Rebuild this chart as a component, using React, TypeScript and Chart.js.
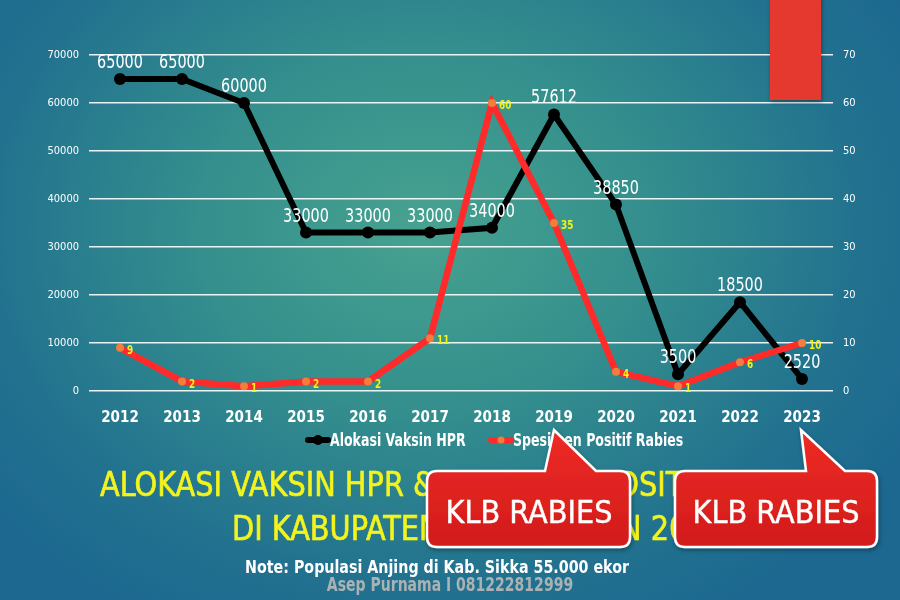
import React, { useEffect, useRef } from 'react';
import { Chart, registerables } from 'chart.js';

Chart.register(...registerables);

const years = ['2012', '2013', '2014', '2015', '2016', '2017', '2018', '2019', '2020', '2021', '2022', '2023'];
const vaksinHPR = [65000, 65000, 60000, 33000, 33000, 33000, 34000, 57612, 38850, 3500, 18500, 2520];
const spesimenPositif = [9, 2, 1, 2, 2, 11, 60, 35, 4, 1, 6, 10];
const leftTicks = [0, 10000, 20000, 30000, 40000, 50000, 60000, 70000];
const rightTicks = [0, 10, 20, 30, 40, 50, 60, 70];

const seriesNames = ['Alokasi Vaksin HPR', 'Spesimen Positif Rabies'];
const titleLine1 = 'ALOKASI VAKSIN HPR & SPESIMEN POSITIF RABIES';
const titleLine2 = 'DI KABUPATEN SIKKA TAHUN 2012-2023';
const calloutText = 'KLB RABIES';
const noteText = 'Note: Populasi Anjing di Kab. Sikka 55.000 ekor';
const authorText = 'Asep Purnama I 081222812999';

const NARROW = '"Liberation Sans Narrow", "DejaVu Sans Condensed", "Arial Narrow", sans-serif';

const valueLabels = {
  id: 'valueLabels',
  afterDatasetsDraw(chart: any) {
    const ctx = chart.ctx;
    chart.data.datasets.forEach((ds: any, i: number) => {
      const meta = chart.getDatasetMeta(i);
      meta.data.forEach((pt: any, j: number) => {
        const v = ds.data[j];
        ctx.save();
        if (i === 0) {
          ctx.font = '20px ' + NARROW;
          ctx.fillStyle = '#ffffff';
          ctx.textAlign = 'center';
          ctx.textBaseline = 'alphabetic';
          ctx.translate(pt.x, pt.y - 11);
          ctx.scale(0.8, 1);
          ctx.fillText(String(v), 0, 0);
        } else {
          ctx.font = 'bold 12px ' + NARROW;
          ctx.fillStyle = '#f2f21c';
          ctx.textAlign = 'left';
          ctx.textBaseline = 'middle';
          ctx.translate(pt.x + 7, pt.y + 3);
          ctx.scale(0.82, 1);
          ctx.fillText(String(v), 0, 0);
        }
        ctx.restore();
      });
    });
  },
};

export default function App() {
  const canvasRef = useRef<HTMLCanvasElement | null>(null);

  useEffect(() => {
    const canvas = canvasRef.current;
    if (!canvas) return;
    const chart = new Chart(canvas, {
      type: 'line',
      data: {
        labels: years,
        datasets: [
          {
            label: seriesNames[0],
            data: vaksinHPR,
            yAxisID: 'y',
            borderColor: '#000000',
            borderWidth: 6,
            pointRadius: 6,
            pointBackgroundColor: '#000000',
            pointBorderWidth: 0,
            tension: 0,
            order: 0,
          },
          {
            label: seriesNames[1],
            data: spesimenPositif,
            yAxisID: 'y1',
            borderColor: '#ff2a2a',
            borderWidth: 6.5,
            pointRadius: 4,
            pointBackgroundColor: '#f47c3c',
            pointBorderWidth: 0,
            tension: 0,
            order: -1,
          },
        ],
      },
      options: {
        responsive: false,
        animation: false,
        devicePixelRatio: 1,
        layout: { padding: { top: 55, bottom: 24, left: 0, right: 0 } },
        plugins: {
          legend: { display: false },
          tooltip: { enabled: false },
        },
        scales: {
          x: {
            offset: true,
            grid: { display: false },
            border: { display: false },
            afterFit: (s: any) => { s.height = 45; },
            ticks: { color: '#ffffff', font: { family: NARROW, size: 15, weight: 'bold' }, padding: 10, maxRotation: 0, minRotation: 0 },
          },
          y: {
            position: 'left',
            min: 0,
            max: 70000,
            afterBuildTicks: (s: any) => { s.ticks = leftTicks.map((v) => ({ value: v })); },
            afterFit: (s: any) => { s.width = 89; },
            ticks: { color: '#ffffff', font: { family: NARROW, size: 11 }, padding: 10, callback: (v: any) => String(v) },
            grid: { color: 'rgba(255,255,255,0.9)', lineWidth: 1.5, drawTicks: false },
            border: { display: false },
          },
          y1: {
            position: 'right',
            min: 0,
            max: 70,
            afterBuildTicks: (s: any) => { s.ticks = rightTicks.map((v) => ({ value: v })); },
            afterFit: (s: any) => { s.width = 67; },
            ticks: { color: '#ffffff', font: { family: NARROW, size: 11 }, padding: 10, callback: (v: any) => String(v) },
            grid: { display: false, drawTicks: false },
            border: { display: false },
          },
        },
      } as any,
      plugins: [valueLabels],
    });
    return () => chart.destroy();
  }, []);

  const textBase: React.CSSProperties = { position: 'absolute', whiteSpace: 'nowrap', fontFamily: NARROW };
  const titleStyle: React.CSSProperties = {
    ...textBase,
    fontSize: 33,
    lineHeight: '38px',
    color: '#f4f41c',
    WebkitTextStroke: '0.6px #f4f41c',
    transform: 'scaleX(0.97)',
    transformOrigin: 'left center',
  };

  return (
    <div
      style={{
        position: 'fixed',
        left: 0,
        top: 0,
        width: 900,
        height: 600,
        overflow: 'hidden',
        background: 'radial-gradient(ellipse 62% 75% at 47% 38%, #47a290 0%, #348f8d 40%, #22728f 78%, #1c6890 100%)',
      }}
    >
      <canvas ref={canvasRef} width={900} height={460} style={{ position: 'absolute', left: 0, top: 0, width: 900, height: 460 }} />

      {/* legend */}
      <svg style={{ position: 'absolute', left: 305, top: 434 }} width={26} height={12}>
        <line x1={3} y1={6} x2={23} y2={6} stroke="#000" strokeWidth={6} strokeLinecap="round" />
        <circle cx={13} cy={6} r={5} fill="#000" />
      </svg>
      <div style={{ ...textBase, left: 330, top: 430, fontSize: 17, lineHeight: '20px', fontWeight: 'bold', color: '#fff', transform: 'scaleX(0.82)', transformOrigin: 'left center' }}>{seriesNames[0]}</div>
      <svg style={{ position: 'absolute', left: 488, top: 434 }} width={26} height={12}>
        <line x1={3} y1={6} x2={23} y2={6} stroke="#ff2a2a" strokeWidth={6} strokeLinecap="round" />
        <circle cx={13} cy={6} r={3.5} fill="#f47c3c" />
      </svg>
      <div style={{ ...textBase, left: 513, top: 430, fontSize: 17, lineHeight: '20px', fontWeight: 'bold', color: '#fff', transform: 'scaleX(0.82)', transformOrigin: 'left center' }}>{seriesNames[1]}</div>

      {/* title */}
      <div style={{ ...titleStyle, left: 100, top: 466 }}>{titleLine1}</div>
      <div style={{ ...titleStyle, left: 232, top: 510 }}>{titleLine2}</div>

      {/* note and author */}
      <div style={{ ...textBase, left: 437, top: 557, transform: 'translateX(-50%) scaleX(0.88)', fontSize: 18, lineHeight: '20px', fontWeight: 'bold', color: '#fff' }}>{noteText}</div>
      <div style={{ ...textBase, left: 450, top: 574, transform: 'translateX(-50%) scaleX(0.82)', fontSize: 19, lineHeight: '20px', fontWeight: 'bold', color: '#aab2b3' }}>{authorText}</div>

      {/* callouts and red block */}
      <svg style={{ position: 'absolute', left: 0, top: 0, pointerEvents: 'none' }} width={900} height={600}>
        <defs>
          <linearGradient id="calloutFill" x1="0" y1="0" x2="0" y2="1">
            <stop offset="0" stopColor="#ee2b25" />
            <stop offset="1" stopColor="#d21b1b" />
          </linearGradient>
          <filter id="shadow" x="-10%" y="-10%" width="120%" height="130%">
            <feDropShadow dx="1" dy="2" stdDeviation="2" floodColor="#000" floodOpacity="0.35" />
          </filter>
        </defs>
        <rect x={770} y={-5} width={51} height={105} fill="#e5372f" filter="url(#shadow)" />
        <path
          d="M 437 471 L 545 471 L 554 430 L 596 471 L 620 471 Q 630 471 630 481 L 630 537 Q 630 547 620 547 L 437 547 Q 427 547 427 537 L 427 481 Q 427 471 437 471 Z"
          fill="url(#calloutFill)"
          stroke="#ffffff"
          strokeWidth={2.5}
          filter="url(#shadow)"
        />
        <text x={529} y={523} textAnchor="middle" fill="#ffffff" stroke="#ffffff" strokeWidth={0.4} style={{ fontFamily: NARROW, fontSize: 32 }}>{calloutText}</text>
        <path
          d="M 685 471 L 806 471 L 801 430 L 845 471 L 867 471 Q 877 471 877 481 L 877 537 Q 877 547 867 547 L 685 547 Q 675 547 675 537 L 675 481 Q 675 471 685 471 Z"
          fill="url(#calloutFill)"
          stroke="#ffffff"
          strokeWidth={2.5}
          filter="url(#shadow)"
        />
        <text x={776} y={523} textAnchor="middle" fill="#ffffff" stroke="#ffffff" strokeWidth={0.4} style={{ fontFamily: NARROW, fontSize: 32 }}>{calloutText}</text>
      </svg>
    </div>
  );
}
